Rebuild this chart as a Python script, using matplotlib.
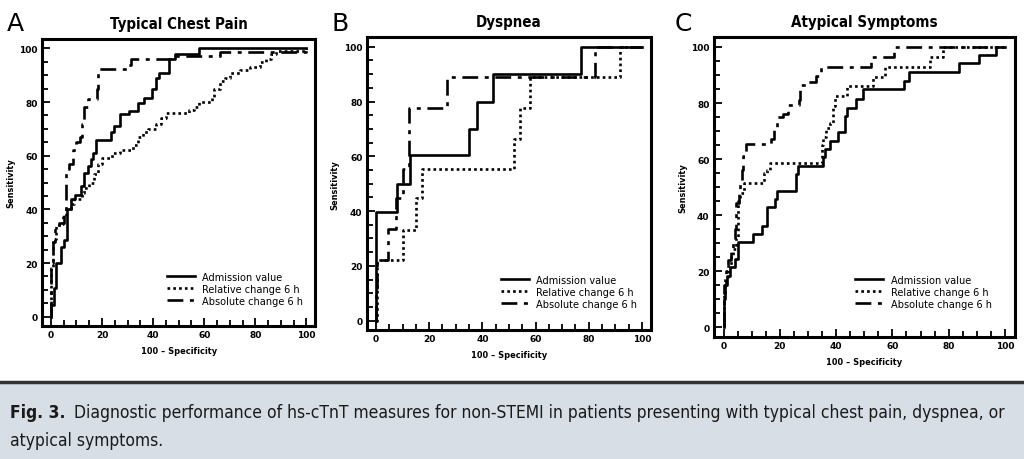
import numpy as np
import matplotlib
matplotlib.use('Agg')
import matplotlib.pyplot as plt
from matplotlib.ticker import MultipleLocator

# ROC curves: (100 - specificity, sensitivity) corner points
a_adm_x = [0, 0, 1.3, 2.0, 3.9, 5.2, 6.3, 7.8, 9.5, 11.8, 13.0, 14.5, 15.7, 16.5, 17.6, 23.5, 24.8, 27.0, 30.7, 33.9, 36.6, 39.7, 41.0, 42.3, 46.4, 48.4, 58.0, 100]
a_adm_y = [0, 4.4, 10.7, 20, 26, 28.7, 40, 43.7, 45.5, 48.6, 53.6, 56, 58.6, 61, 66, 69, 71, 75.4, 76.6, 79.8, 81.6, 84.7, 89, 91, 96, 98, 100, 100]

a_rel_x = [0, 0, 0.7, 2.0, 4.0, 4.6, 5.9, 7.8, 9.0, 12.0, 13.0, 15.0, 17.0, 18.5, 20.0, 24.0, 27.0, 32.0, 34.0, 36.0, 38.0, 41.0, 43.0, 45.0, 52.0, 54.0, 56.0, 58.0, 62.0, 63.0, 64.0, 66.0, 68.0, 70.0, 74.0, 78.0, 82.0, 84.0, 86.0, 88.0, 100]
a_rel_y = [0, 18, 29, 34, 34.5, 37, 40, 42, 44, 46, 48, 50, 53, 57, 59, 61, 62, 64, 67, 69, 70, 72, 74, 76, 76, 77, 78, 80, 80, 82, 85, 88, 89, 91, 92, 93, 95, 96, 98, 99, 100]

a_abs_x = [0, 0, 0.8, 1.5, 3.0, 5.0, 6.0, 7.0, 8.5, 10.0, 11.5, 12.0, 13.0, 14.5, 17.0, 18.0, 18.5, 30.0, 31.5, 49.0, 66.0, 100]
a_abs_y = [0, 20, 28, 33, 35, 39, 55, 57, 62, 65, 67, 72, 78, 81, 81, 85, 92.5, 94, 96, 97, 98.5, 100]

b_adm_x = [0, 0, 8.0, 13.0, 35.0, 38.0, 44.0, 77.0, 100]
b_adm_y = [0, 39.7, 50, 60.4, 70, 80, 90, 100, 100]

b_rel_x = [0, 0.6, 10.0, 15.0, 17.3, 52.0, 54.3, 58.0, 91.7, 100]
b_rel_y = [0, 22, 33, 44.6, 55.5, 66.5, 77.5, 89, 100, 100]

b_abs_x = [0, 0, 0.6, 4.7, 7.4, 10.2, 12.4, 26.6, 82.4, 100]
b_abs_y = [0, 10, 22, 33.6, 44.6, 55.5, 77.5, 89, 100, 100]

c_adm_x = [0, 0, 0.6, 1.2, 2.4, 4.1, 5.1, 10.3, 13.6, 15.3, 18.3, 18.9, 25.6, 26.5, 35.4, 36.0, 37.7, 40.7, 43.0, 44.0, 47.2, 49.5, 64.3, 66.0, 83.7, 90.8, 97.0, 100]
c_adm_y = [0, 10, 15, 18.4, 21.4, 24.3, 30.5, 33.3, 36.2, 42.8, 45.8, 48.7, 54.6, 57.6, 60.6, 63.5, 66.5, 69.5, 75.4, 78.4, 81.4, 85, 88, 91, 94.2, 97, 100, 100]

c_rel_x = [0, 0, 0.6, 1.5, 2.5, 3.5, 4.5, 5.0, 5.3, 6.0, 7.2, 14.5, 15.5, 16.5, 35.0, 35.4, 36.5, 38.0, 39.0, 39.5, 44.0, 53.0, 57.5, 73.5, 78.0, 100]
c_rel_y = [0, 12, 18, 22, 25, 28, 32, 40, 45, 48, 51.5, 55, 56, 58.5, 65, 68, 71, 73, 79, 82.6, 86, 89.3, 92.7, 96.5, 100, 100]

c_abs_x = [0, 0, 0.7, 1.5, 2.5, 3.5, 4.0, 4.5, 5.5, 6.0, 6.5, 7.0, 7.8, 17.0, 18.0, 19.0, 21.0, 23.0, 26.8, 27.0, 30.0, 33.0, 34.5, 52.5, 60.5, 100]
c_abs_y = [0, 15, 20, 24, 28, 31, 35, 44.5, 48, 52, 56, 61, 65.5, 67, 71.5, 75, 76, 79.3, 81, 86.6, 87.5, 89.5, 93, 96.5, 100, 100]

panels = [
    ('A', 'Typical Chest Pain', (a_adm_x, a_adm_y), (a_rel_x, a_rel_y), (a_abs_x, a_abs_y)),
    ('B', 'Dyspnea', (b_adm_x, b_adm_y), (b_rel_x, b_rel_y), (b_abs_x, b_abs_y)),
    ('C', 'Atypical Symptoms', (c_adm_x, c_adm_y), (c_rel_x, c_rel_y), (c_abs_x, c_abs_y)),
]
series_labels = ['Admission value', 'Relative change 6 h', 'Absolute change 6 h']
styles = ['-', (0, (1, 1.2)), (0, (6, 2.5, 1.5, 2.5))]

# axes boxes in figure fractions, matched to the reference layout
boxes = [
    [0.041, 0.289, 0.267, 0.624],
    [0.358, 0.280, 0.278, 0.637],
    [0.697, 0.265, 0.294, 0.652],
]
legend_anchor = [(0.956, 0.07), (0.951, 0.072), (0.924, 0.093)]
letter_x = [7, 331, 675]

fig = plt.figure(figsize=(10.24, 4.6), dpi=100)

for (letter, title, *curves), box, anc, lx in zip(panels, boxes, legend_anchor, letter_x):
    ax = fig.add_axes(box)
    for (x, y), ls, lab in zip(curves, styles, series_labels):
        ax.step(x, y, where='post', color='black', lw=1.9, ls=ls, label=lab)
    ax.set_xlim(-3.5, 103.5)
    ax.set_ylim(-3.5, 103.5)
    ax.xaxis.set_major_locator(MultipleLocator(20))
    ax.yaxis.set_major_locator(MultipleLocator(20))
    ax.xaxis.set_minor_locator(MultipleLocator(5))
    ax.yaxis.set_minor_locator(MultipleLocator(5))
    ax.tick_params(which='both', direction='in', width=1.3, labelsize=6.5, pad=3)
    ax.tick_params(which='major', length=6)
    ax.tick_params(which='minor', length=4)
    for lab in ax.get_xticklabels() + ax.get_yticklabels():
        lab.set_fontweight('bold')
    for sp in ax.spines.values():
        sp.set_linewidth(2.2)
    ax.set_xlabel('100 \u2013 Specificity', fontsize=6.6, fontweight='bold',
                  fontstretch='condensed', labelpad=5)
    ax.set_ylabel('Sensitivity', fontsize=6.6, fontweight='bold',
                  fontstretch='condensed', labelpad=3)
    ax.set_title(title, fontsize=10.8, fontweight='bold', fontstretch='condensed', pad=8)
    fig.text(lx / 1024, 1 - 31 / 460, letter, fontsize=18, va='baseline', ha='left')
    ax.legend(loc='lower right', bbox_to_anchor=anc, frameon=False,
              prop={'size': 7.8, 'stretch': 'condensed'}, handlelength=2.6,
              handletextpad=0.7, labelspacing=0.2, borderaxespad=0, borderpad=0)

# caption band
fig.patches.append(plt.Rectangle((0, 0), 1, 75 / 460, transform=fig.transFigure,
                                 facecolor='#d7dee6', edgecolor='none', zorder=0))
fig.add_artist(plt.Line2D([0, 1], [77 / 460, 77 / 460], color='#333333', lw=2.5))
cap_kw = dict(fontsize=12.5, fontstretch='condensed', va='center', ha='left', color='#1a1a1a')
fig.text(10 / 1024, 47 / 460, 'Fig. 3.', fontweight='bold', **cap_kw)
fig.text(74 / 1024, 47 / 460, 'Diagnostic performance of hs-cTnT measures for non-STEMI in patients presenting with typical chest pain, dyspnea, or', **cap_kw)
fig.text(10 / 1024, 19 / 460, 'atypical symptoms.', **cap_kw)

fig.savefig('out.png', dpi=100)
